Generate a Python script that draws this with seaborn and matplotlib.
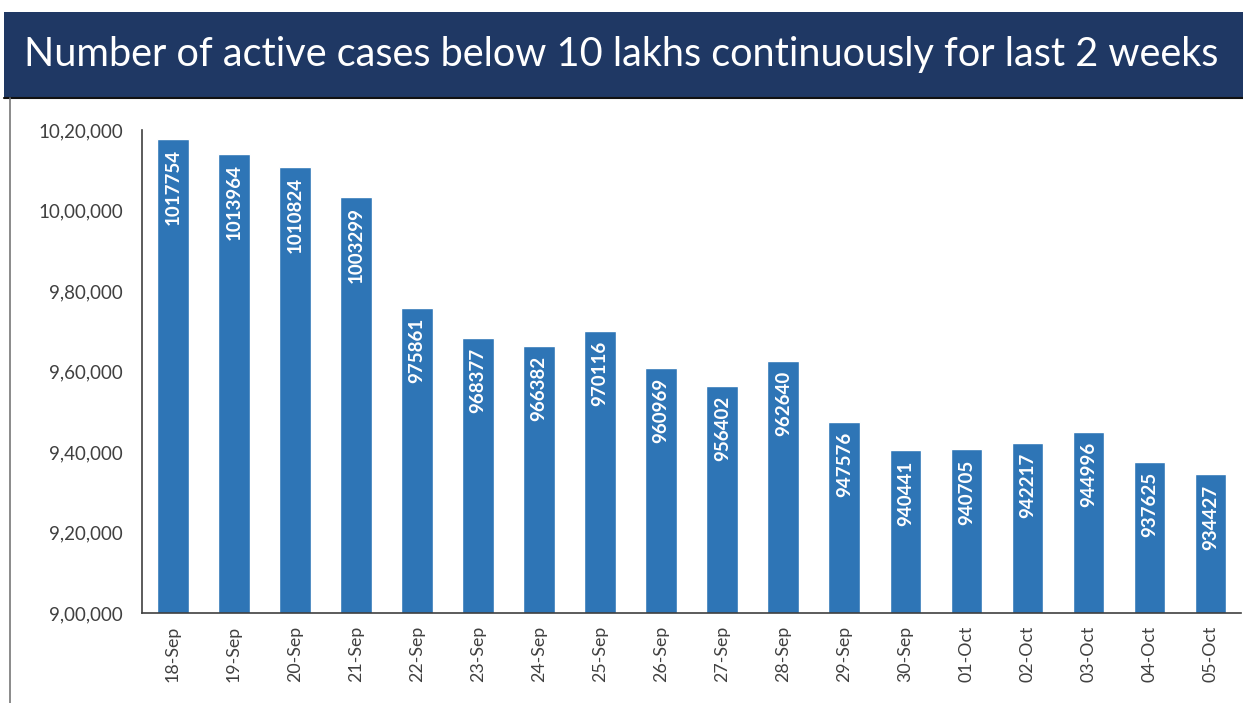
import numpy as np
import pandas as pd
import matplotlib
matplotlib.use("Agg")
import matplotlib.pyplot as plt
import seaborn as sns
from matplotlib.patches import Rectangle
from matplotlib.lines import Line2D
from matplotlib.ticker import FuncFormatter

# Data
dates = ['18-Sep', '19-Sep', '20-Sep', '21-Sep', '22-Sep', '23-Sep', '24-Sep', '25-Sep', '26-Sep',
         '27-Sep', '28-Sep', '29-Sep', '30-Sep', '01-Oct', '02-Oct', '03-Oct', '04-Oct', '05-Oct']
active_cases = [1017754, 1013964, 1010824, 1003299, 975861, 968377, 966382, 970116, 960969,
                956402, 962640, 947576, 940441, 940705, 942217, 944996, 937625, 934427]
y_ticks = [900000, 920000, 940000, 960000, 980000, 1000000, 1020000]

df = pd.DataFrame({'date': dates, 'cases': active_cases})

sns.set_style("white")
plt.rcParams['font.family'] = ['Lato', 'DejaVu Sans']

bar_color = '#2E75B6'
text_color = '#404040'


def indian_format(x, pos=None):
    # 1020000 -> 10,20,000
    s = str(int(round(x)))
    last3 = s[-3:]
    rest = s[:-3]
    parts = []
    while len(rest) > 2:
        parts.insert(0, rest[-2:])
        rest = rest[:-2]
    if rest:
        parts.insert(0, rest)
    return ','.join(parts + [last3])


fig = plt.figure(figsize=(12.43, 7.03), dpi=100)
fig.patch.set_facecolor('white')

# Title banner
fig.patches.append(Rectangle((0.003, 0.862), 0.997, 0.121, transform=fig.transFigure,
                             facecolor='#1F3864', edgecolor='none', zorder=0))
fig.lines.append(Line2D([0.003, 1.0], [0.861, 0.861], transform=fig.transFigure,
                        color='#111111', linewidth=1.5))
fig.lines.append(Line2D([0.008, 0.008], [0.0, 0.861], transform=fig.transFigure,
                        color='#777777', linewidth=1.2))
fig.text(0.5, 0.922, 'Number of active cases below 10 lakhs continuously for last 2 weeks',
         color='white', fontsize=28.5, ha='center', va='center')

ax = fig.add_axes([0.1145, 0.128, 0.884, 0.687])
sns.barplot(data=df, x='date', y='cases', color=bar_color, width=0.52, saturation=1, ax=ax)

ax.set_ylim(900000, 1020000)
ax.set_xlim(-0.5, len(dates) - 0.5)
ax.set_yticks(y_ticks)
ax.yaxis.set_major_formatter(FuncFormatter(indian_format))
ax.set_xlabel('')
ax.set_ylabel('')

# value labels inside bars
for i, v in enumerate(active_cases):
    ax.text(i, v - 2500, str(v), rotation=90, ha='center', va='top',
            color='white', fontsize=13.5, fontweight='bold')

# axis styling
for side in ['top', 'right']:
    ax.spines[side].set_visible(False)
ax.spines['left'].set_color(text_color)
ax.spines['bottom'].set_color(text_color)
ax.spines['left'].set_linewidth(1.2)
ax.spines['bottom'].set_linewidth(1.2)
ax.plot(0, 1.006, marker='^', color=text_color, markersize=6,
        transform=ax.get_yaxis_transform(), clip_on=False)

ax.tick_params(axis='y', length=0, labelsize=13.5, labelcolor=text_color, pad=14)
ax.tick_params(axis='x', which='major', length=0, labelsize=12.8, labelcolor=text_color,
               rotation=90, pad=9)
ax.set_xticks(np.arange(-0.5, len(dates), 1), minor=True)
ax.tick_params(axis='x', which='minor', length=5, width=1.2, color=text_color, direction='out')

fig.savefig('out.png', dpi=100)
